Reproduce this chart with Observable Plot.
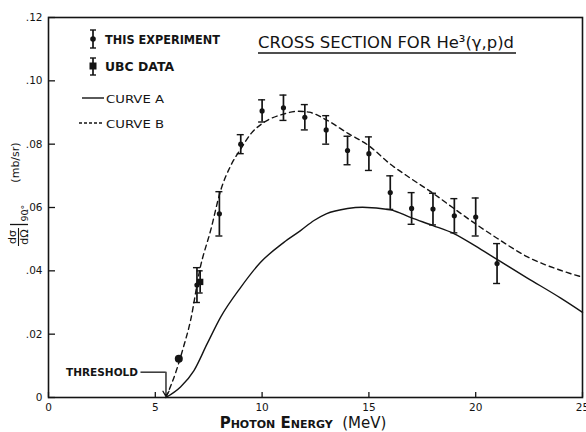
<!DOCTYPE html>
<html>
<head>
<meta charset="utf-8">
<script src="https://cdn.jsdelivr.net/npm/d3@7"></script>
<script src="https://cdn.jsdelivr.net/npm/@observablehq/plot@0.6"></script>
<style>
  html, body { margin: 0; padding: 0; background: #fff; }
  svg { display: block; }
</style>
</head>
<body>
<div id="chart"></div>
<script>
// ---- data ----
const xTicks = [0, 5, 10, 15, 20, 25];
const xTickLabels = ["0", "5", "10", "15", "20", "25"];
const yTicks = [0, 0.02, 0.04, 0.06, 0.08, 0.10, 0.12];
const yTickLabels = ["0", ".02", ".04", ".06", ".08", ".10", ".12"];

// This experiment
const expEnergy = [6.95, 8, 9, 10, 11, 12, 13, 14, 15, 16, 17, 18, 19, 20, 21];
const expSigma  = [0.0355, 0.058, 0.080, 0.0905, 0.0915, 0.0885, 0.0845, 0.078, 0.077, 0.0647, 0.0597, 0.0595, 0.0574, 0.057, 0.0423];
const expError  = [0.0055, 0.007, 0.003, 0.0035, 0.004, 0.004, 0.0045, 0.0045, 0.0053, 0.0053, 0.005, 0.005, 0.0054, 0.006, 0.0063];

// UBC data
const ubcEnergy = [6.1, 7.1];
const ubcSigma  = [0.0122, 0.0365];
const ubcError  = [0, 0.0035];

// Curve A (solid)
const curveAEnergy = [5.5, 6.18, 6.81, 7.43, 8.06, 9, 9.93, 11.02, 11.8, 12.43, 13, 14, 14.7, 16, 17, 18, 19, 20, 21, 22.4, 24, 25];
const curveASigma  = [0, 0.0033, 0.0085, 0.017, 0.0254, 0.0348, 0.0427, 0.049, 0.0527, 0.0559, 0.058, 0.0597, 0.0601, 0.0593, 0.0567, 0.0543, 0.0517, 0.0478, 0.0436, 0.0378, 0.0313, 0.0269];

// Curve B (dashed)
const curveBEnergy = [5.5, 6.0, 6.3, 6.65, 7.09, 7.6, 8.06, 8.5, 9, 9.5, 10, 11, 11.7, 12.2, 13, 14, 15, 16, 17, 18, 19, 20, 21, 22.4, 24, 25];
const curveBSigma  = [0, 0.0088, 0.0155, 0.0243, 0.0406, 0.053, 0.0654, 0.0728, 0.0785, 0.0835, 0.0865, 0.0895, 0.0904, 0.0901, 0.0877, 0.0835, 0.0795, 0.0737, 0.069, 0.0645, 0.0596, 0.0548, 0.0503, 0.0445, 0.0401, 0.038];

const thresholdEnergy = 5.5;
const thresholdLabelSigma = 0.008;

// ---- tables ----
const exp = expEnergy.map((E, i) => ({E, s: expSigma[i], err: expError[i]}));
const ubc = ubcEnergy.map((E, i) => ({E, s: ubcSigma[i], err: ubcError[i]}));
const ubcBars = ubc.filter(d => d.err > 0);
const ubcDots = ubc.filter(d => d.err === 0);
const curveA = curveAEnergy.map((E, i) => ({E, s: curveASigma[i]}));
const curveB = curveBEnergy.map((E, i) => ({E, s: curveBSigma[i]}));

const ink = "#141414";
const font = "'DejaVu Sans', sans-serif";

const chart = Plot.plot({
  width: 586,
  height: 432,
  marginLeft: 48,
  marginRight: 4,
  marginTop: 17,
  marginBottom: 35,
  style: {fontFamily: font, color: ink, background: "#fff"},
  x: {domain: [0, 25]},
  y: {domain: [0, 0.12]},
  marks: [
    Plot.frame({stroke: ink, strokeWidth: 1.6}),
    // inward tick marks
    Plot.ruleX(xTicks, {x: d => d, y1: 0, y2: 0, insetTop: -5, stroke: ink, strokeWidth: 1.3}),
    Plot.ruleY(yTicks, {y: d => d, x1: 0, x2: 0, insetRight: -7, stroke: ink, strokeWidth: 1.3}),
    // tick labels
    Plot.axisX({ticks: xTicks, tickSize: 0, tickPadding: 6, label: null,
      tickFormat: d => xTickLabels[xTicks.indexOf(d)], fontSize: 10.5, fill: ink}),
    Plot.axisY({ticks: yTicks, tickSize: 0, tickPadding: 6, label: null,
      tickFormat: d => yTickLabels[yTicks.findIndex(t => Math.abs(t - d) < 1e-9)], fontSize: 10.5, fill: ink}),
    // curves
    Plot.line(curveA, {x: "E", y: "s", curve: "monotone-x", stroke: ink, strokeWidth: 1.4}),
    Plot.line(curveB, {x: "E", y: "s", curve: "monotone-x", stroke: ink, strokeWidth: 1.4, strokeDasharray: "5,4"}),
    // error bars: this experiment
    Plot.ruleX(exp, {x: "E", y1: d => d.s - d.err, y2: d => d.s + d.err, stroke: ink, strokeWidth: 1.7}),
    Plot.ruleY(exp, {y: d => d.s + d.err, x1: "E", x2: "E", insetLeft: -3.5, insetRight: -3.5, stroke: ink, strokeWidth: 1.4}),
    Plot.ruleY(exp, {y: d => d.s - d.err, x1: "E", x2: "E", insetLeft: -3.5, insetRight: -3.5, stroke: ink, strokeWidth: 1.4}),
    Plot.dot(exp, {x: "E", y: "s", r: 2.6, fill: ink, stroke: null}),
    // UBC data
    Plot.ruleX(ubcBars, {x: "E", y1: d => d.s - d.err, y2: d => d.s + d.err, stroke: ink, strokeWidth: 1.7}),
    Plot.ruleY(ubcBars, {y: d => d.s + d.err, x1: "E", x2: "E", insetLeft: -3, insetRight: -3, stroke: ink, strokeWidth: 1.4}),
    Plot.ruleY(ubcBars, {y: d => d.s - d.err, x1: "E", x2: "E", insetLeft: -3, insetRight: -3, stroke: ink, strokeWidth: 1.4}),
    Plot.dot(ubcBars, {x: "E", y: "s", r: 3.6, symbol: "square", fill: ink, stroke: null}),
    Plot.dot(ubcDots, {x: "E", y: "s", r: 4, fill: ink, stroke: null}),
    // threshold annotation
    Plot.ruleY([thresholdLabelSigma], {y: d => d, x1: thresholdEnergy, x2: thresholdEnergy, insetLeft: -25, stroke: ink, strokeWidth: 1.3}),
    Plot.arrow([thresholdEnergy], {x1: d => d, x2: d => d, y1: thresholdLabelSigma, y2: 0, stroke: ink, strokeWidth: 1.3, headLength: 7, insetEnd: 1}),
    Plot.text([thresholdEnergy], {x: d => d, y: thresholdLabelSigma, text: () => "THRESHOLD", textAnchor: "end", dx: -28, dy: 0, fontSize: 10.5, fontWeight: "bold", fill: ink})
  ]
});

document.getElementById("chart").appendChild(chart);
const svg = d3.select(chart);

// ---- title ----
svg.append("text")
  .attr("x", 258).attr("y", 48).attr("text-anchor", "start")
  .attr("font-family", font).attr("font-size", 16.5).attr("fill", ink)
  .attr("textLength", 256).attr("lengthAdjust", "spacingAndGlyphs")
  .text("CROSS SECTION FOR He³(γ,p)d");
svg.append("line").attr("x1", 258).attr("x2", 516).attr("y1", 53).attr("y2", 53)
  .attr("stroke", ink).attr("stroke-width", 1.4);

// ---- legend ----
const lg = svg.append("g").attr("font-family", font).attr("fill", ink).attr("text-anchor", "start");
function errBar(g, x, y1, y2, cap) {
  g.append("line").attr("x1", x).attr("x2", x).attr("y1", y1).attr("y2", y2).attr("stroke", ink).attr("stroke-width", 1.7);
  g.append("line").attr("x1", x - cap).attr("x2", x + cap).attr("y1", y1).attr("y2", y1).attr("stroke", ink).attr("stroke-width", 1.4);
  g.append("line").attr("x1", x - cap).attr("x2", x + cap).attr("y1", y2).attr("y2", y2).attr("stroke", ink).attr("stroke-width", 1.4);
}
errBar(lg, 93, 30, 48, 3);
lg.append("circle").attr("cx", 93).attr("cy", 39).attr("r", 2.8).attr("fill", ink);
lg.append("text").attr("x", 105).attr("y", 44).attr("font-size", 11.5).attr("font-weight", "bold")
  .attr("textLength", 115).attr("lengthAdjust", "spacingAndGlyphs").text("THIS EXPERIMENT");
errBar(lg, 93, 58, 75, 3);
lg.append("rect").attr("x", 89.5).attr("y", 62.5).attr("width", 7).attr("height", 7).attr("fill", ink);
lg.append("text").attr("x", 105).attr("y", 71).attr("font-size", 11.5).attr("font-weight", "bold")
  .attr("textLength", 69).attr("lengthAdjust", "spacingAndGlyphs").text("UBC DATA");
lg.append("line").attr("x1", 82).attr("x2", 104).attr("y1", 98).attr("y2", 98).attr("stroke", ink).attr("stroke-width", 1.4);
lg.append("text").attr("x", 106).attr("y", 102.5).attr("font-size", 11)
  .attr("textLength", 58).attr("lengthAdjust", "spacingAndGlyphs").text("CURVE A");
lg.append("line").attr("x1", 79).attr("x2", 104).attr("y1", 123).attr("y2", 123).attr("stroke", ink)
  .attr("stroke-width", 1.3).attr("stroke-dasharray", "3,2");
lg.append("text").attr("x", 106).attr("y", 127.5).attr("font-size", 11)
  .attr("textLength", 58).attr("lengthAdjust", "spacingAndGlyphs").text("CURVE B");

// ---- x label (small caps lettering) ----
const xl = svg.append("text").attr("x", 303).attr("y", 428).attr("text-anchor", "middle")
  .attr("font-family", font).attr("font-size", 15).attr("fill", ink).attr("font-weight", "bold");
xl.append("tspan").text("P");
xl.append("tspan").attr("font-size", 11).text("HOTON");
xl.append("tspan").text(" E");
xl.append("tspan").attr("font-size", 11).text("NERGY");
xl.append("tspan").attr("font-weight", "normal").text("  (MeV)");

// ---- y label (rotated) ----
const yl = svg.append("g").attr("transform", "translate(0,250) rotate(-90)")
  .attr("font-family", font).attr("fill", ink);
yl.append("text").attr("x", 13).attr("y", 16).attr("text-anchor", "middle").attr("font-size", 11).text("dσ");
yl.append("line").attr("x1", 4).attr("x2", 22).attr("y1", 18.5).attr("y2", 18.5).attr("stroke", ink).attr("stroke-width", 1.1);
yl.append("text").attr("x", 13).attr("y", 27.5).attr("text-anchor", "middle").attr("font-size", 11).text("dΩ");
yl.append("line").attr("x1", 25.5).attr("x2", 25.5).attr("y1", 10).attr("y2", 28).attr("stroke", ink).attr("stroke-width", 1.3);
yl.append("text").attr("x", 28.5).attr("y", 27.5).attr("text-anchor", "start").attr("font-size", 9.5).text("90°");
yl.append("text").attr("x", 87.5).attr("y", 19).attr("text-anchor", "middle").attr("font-size", 11).text("(mb/sr)");
</script>
</body>
</html>
